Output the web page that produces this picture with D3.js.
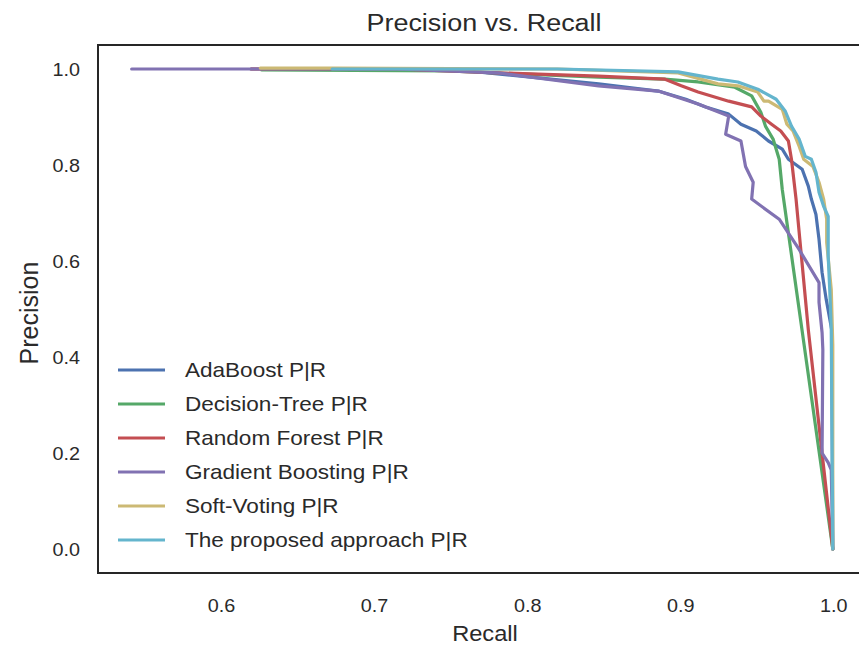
<!DOCTYPE html>
<html>
<head>
<meta charset="utf-8">
<script src="https://cdn.jsdelivr.net/npm/d3@7"></script>
<style>
  html, body { margin: 0; padding: 0; background: #fff; }
  svg { display: block; }
  text { font-family: "Liberation Sans", Arial, sans-serif; fill: #2a2a2a; }
</style>
</head>
<body>
<svg id="chart" width="859" height="645"></svg>
<script>
// ---- data ----
const seriesNames = ["AdaBoost P|R", "Decision-Tree P|R", "Random Forest P|R",
                     "Gradient Boosting P|R", "Soft-Voting P|R", "The proposed approach P|R"];
const seriesColors = ["#4C72B0", "#55A868", "#C44E52", "#8172B2", "#CCB974", "#64B5CD"];

const adaRecall    = [0.620, 0.748, 0.781, 0.847, 0.886, 0.904, 0.917, 0.932, 0.940, 0.950, 0.958, 0.967, 0.971, 0.980, 0.984, 0.986, 0.989, 0.991, 0.993, 0.9957, 0.9993, 1.000];
const adaPrecision = [1.000, 1.000, 0.990, 0.969, 0.954, 0.937, 0.921, 0.906, 0.885, 0.871, 0.850, 0.833, 0.812, 0.791, 0.756, 0.729, 0.697, 0.645, 0.576, 0.520, 0.457, 0.000];

const dtRecall     = [0.627, 0.748, 0.847, 0.890, 0.912, 0.936, 0.947, 0.953, 0.956, 0.961, 0.965, 0.967, 1.000];
const dtPrecision  = [0.998, 0.996, 0.983, 0.979, 0.973, 0.962, 0.944, 0.910, 0.881, 0.854, 0.812, 0.749, 0.000];

const rfRecall     = [0.620, 0.715, 0.781, 0.847, 0.890, 0.901, 0.912, 0.932, 0.947, 0.953, 0.960, 0.966, 0.971, 0.973, 0.976, 0.984, 1.000];
const rfPrecision  = [1.000, 1.000, 0.992, 0.985, 0.979, 0.965, 0.952, 0.933, 0.921, 0.902, 0.885, 0.871, 0.850, 0.812, 0.729, 0.457, 0.000];

const gbRecall     = [0.542, 0.715, 0.781, 0.847, 0.886, 0.912, 0.932, 0.930, 0.940, 0.943, 0.948, 0.947, 0.965, 0.978, 0.991, 0.991, 0.993, 0.9935, 0.993, 0.997, 0.999, 1.000];
const gbPrecision  = [1.000, 1.000, 0.992, 0.965, 0.954, 0.927, 0.902, 0.864, 0.850, 0.797, 0.764, 0.729, 0.687, 0.624, 0.555, 0.514, 0.451, 0.415, 0.200, 0.180, 0.165, 0.000];

const svRecall     = [0.626, 0.673, 0.820, 0.899, 0.925, 0.938, 0.951, 0.955, 0.958, 0.967, 0.970, 0.974, 0.978, 0.981, 0.987, 0.991, 0.994, 0.996, 0.996, 0.999, 1.000, 1.000];
const svPrecision  = [1.002, 1.002, 1.000, 0.992, 0.969, 0.965, 0.952, 0.933, 0.933, 0.916, 0.885, 0.871, 0.839, 0.812, 0.797, 0.764, 0.729, 0.687, 0.639, 0.541, 0.426, 0.000];

const paRecall     = [0.673, 0.820, 0.899, 0.925, 0.938, 0.951, 0.963, 0.969, 0.973, 0.978, 0.982, 0.986, 0.989, 0.991, 0.994, 0.997, 0.997, 0.998, 0.999, 1.000];
const paPrecision  = [1.000, 1.000, 0.994, 0.979, 0.973, 0.958, 0.937, 0.912, 0.881, 0.854, 0.818, 0.812, 0.785, 0.743, 0.714, 0.693, 0.610, 0.541, 0.457, 0.000];

const xTicks = [0.6, 0.7, 0.8, 0.9, 1.0];
const yTicks = [0.0, 0.2, 0.4, 0.6, 0.8, 1.0];

const allRecall = [adaRecall, dtRecall, rfRecall, gbRecall, svRecall, paRecall];
const allPrecision = [adaPrecision, dtPrecision, rfPrecision, gbPrecision, svPrecision, paPrecision];

// ---- layout ----
const svg = d3.select("#chart");
const plotLeft = 98, plotTop = 45, plotBottom = 573, plotRight = 868;
const sx = 1.1; // horizontal text stretch seen in the reference

const x = d3.scaleLinear().domain([0.52, 1.023]).range([plotLeft, plotRight]);
const y = d3.scaleLinear().domain([-0.05, 1.05]).range([plotBottom, plotTop]);

function stretchedText(g, tx, ty, str, size, anchor) {
  return g.append("text")
    .attr("transform", `translate(${tx},${ty}) scale(${sx},1)`)
    .attr("font-size", size)
    .attr("text-anchor", anchor)
    .text(str);
}

// lines
const line = d3.line().x(d => x(d[0])).y(d => y(d[1]));
const plot = svg.append("g");
allRecall.forEach((rec, i) => {
  const pts = rec.map((r, j) => [r, allPrecision[i][j]]);
  plot.append("path")
    .attr("d", line(pts))
    .attr("fill", "none")
    .attr("stroke", seriesColors[i])
    .attr("stroke-width", 3.2)
    .attr("stroke-linejoin", "round")
    .attr("stroke-linecap", "round");
});

// axes (tick labels only, no tick marks)
const xAxis = svg.append("g").attr("transform", `translate(0,${plotBottom})`)
  .call(d3.axisBottom(x).tickValues(xTicks).tickFormat(d3.format(".1f")).tickSize(0).tickPadding(0));
xAxis.select(".domain").remove();
xAxis.selectAll("text").remove();
xTicks.forEach(t => stretchedText(svg, x(t) + 1, 612, d3.format(".1f")(t), 18, "middle"));

const yAxis = svg.append("g").attr("transform", `translate(${plotLeft},0)`)
  .call(d3.axisLeft(y).tickValues(yTicks).tickFormat(d3.format(".1f")).tickSize(0).tickPadding(0));
yAxis.select(".domain").remove();
yAxis.selectAll("text").remove();
yTicks.forEach(t => stretchedText(svg, 80, y(t) + 6.5, d3.format(".1f")(t), 18, "end"));

// frame (left, top, bottom)
svg.append("path")
  .attr("d", `M${plotRight},${plotTop}H${plotLeft}V${plotBottom}H${plotRight}`)
  .attr("fill", "none").attr("stroke", "#262626").attr("stroke-width", 2);

// title and axis labels
stretchedText(svg, 484, 31, "Precision vs. Recall", 24.5, "middle");
stretchedText(svg, 485, 641, "Recall", 21.5, "middle");
svg.append("text")
  .attr("transform", `translate(38,313) rotate(-90)`)
  .attr("font-size", 25).attr("text-anchor", "middle")
  .text("Precision");

// legend
const legend = svg.append("g");
seriesNames.forEach((name, i) => {
  const cy = 370 + i * 34;
  legend.append("line")
    .attr("x1", 118).attr("x2", 165).attr("y1", cy).attr("y2", cy)
    .attr("stroke", seriesColors[i]).attr("stroke-width", 3.2);
  stretchedText(legend, 185, cy + 7, name, 20.5, "start");
});
</script>
</body>
</html>
